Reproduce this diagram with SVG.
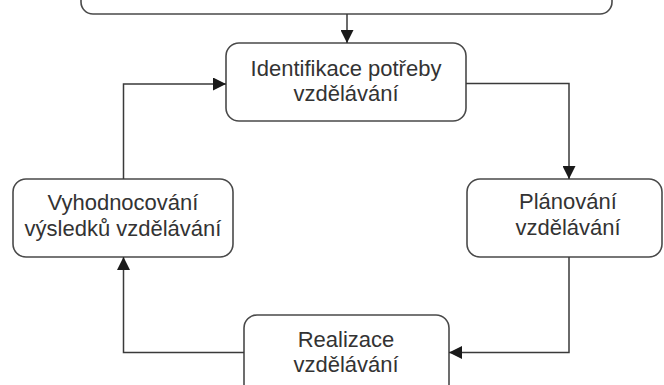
<svg xmlns="http://www.w3.org/2000/svg" width="664" height="385" viewBox="0 0 664 385">
<style>
.box{fill:#ffffff;stroke:#4a4a4a;stroke-width:1.6}
.lbl{font-family:"Liberation Sans",Arial,sans-serif;font-size:22px;fill:#333333;text-anchor:middle}
.conn{fill:none;stroke:#3a3a3a;stroke-width:1.5}
</style>
<defs>
<marker id="ah" viewBox="0 0 12 12" refX="12" refY="6" markerWidth="13" markerHeight="13" markerUnits="userSpaceOnUse" orient="auto">
<path d="M0,0 L12,6 L0,12 Z" fill="#1a1a1a"/>
</marker>
</defs>
<rect width="664" height="385" fill="#ffffff"/>
<g id="top">
<rect class="box" x="81" y="-60" width="531" height="74" rx="12"/>
</g>
<g id="identifikace">
<rect class="box" x="226" y="43" width="240" height="78" rx="13"/>
<text class="lbl" x="346" y="76">Identifikace potřeby</text>
<text class="lbl" x="346" y="101">vzdělávání</text>
</g>
<g id="planovani">
<rect class="box" x="467" y="179" width="195" height="78" rx="13"/>
<text class="lbl" x="568" y="209">Plánování</text>
<text class="lbl" x="568" y="235">vzdělávání</text>
</g>
<g id="realizace">
<rect class="box" x="244" y="315" width="205" height="90" rx="13"/>
<text class="lbl" x="346" y="347">Realizace</text>
<text class="lbl" x="346" y="372">vzdělávání</text>
</g>
<g id="vyhodnocovani">
<rect class="box" x="13" y="179" width="220" height="78" rx="13"/>
<text class="lbl" x="123" y="210">Vyhodnocování</text>
<text class="lbl" x="123" y="236">výsledků vzdělávání</text>
</g>
<g id="connectors">
<path class="conn" d="M347,14 V43" marker-end="url(#ah)"/>
<path class="conn" d="M466,83.5 H569 V179" marker-end="url(#ah)"/>
<path class="conn" d="M569,257 V352.5 H449" marker-end="url(#ah)"/>
<path class="conn" d="M244,352.5 H123.5 V257" marker-end="url(#ah)"/>
<path class="conn" d="M123.5,179 V84 H226" marker-end="url(#ah)"/>
</g>
</svg>
